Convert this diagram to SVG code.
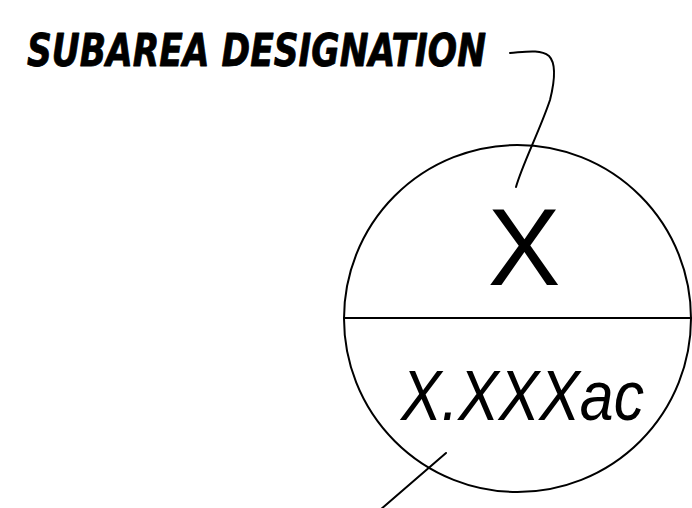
<svg xmlns="http://www.w3.org/2000/svg" width="692" height="508" viewBox="0 0 692 508">
<style>
.ln{fill:none;stroke:#000;stroke-width:2;stroke-linecap:round}
.t{font-family:"Liberation Sans",Arial,sans-serif;fill:#000}
.h{font-family:"DejaVu Sans Condensed","Liberation Sans",sans-serif;stroke:#000;stroke-width:0.8;stroke-linejoin:round}
</style>
<rect width="692" height="508" fill="#fff"/>
<g id="title"><text class="t h" x="27" y="66" font-size="45" font-weight="bold" font-style="italic" textLength="459" lengthAdjust="spacingAndGlyphs">SUBAREA DESIGNATION</text></g>
<g id="symbol">
<circle class="ln" cx="517.5" cy="318.5" r="173.5"/>
<line class="ln" x1="344" y1="318" x2="691" y2="318"/>
<text class="t" x="524" y="285" font-size="109" text-anchor="middle">X</text>
<text class="t" x="401" y="420" font-size="71" font-style="italic" textLength="243" lengthAdjust="spacingAndGlyphs">X.XXXac</text>
</g>
<g id="connectors">
<path class="ln" d="M510,53 C525,52 540,49 549,56 C556,63 555,80 550,100 C540,130 522,165 516,187"/>
<path class="ln" d="M446,453 L380,510"/>
</g>
</svg>
